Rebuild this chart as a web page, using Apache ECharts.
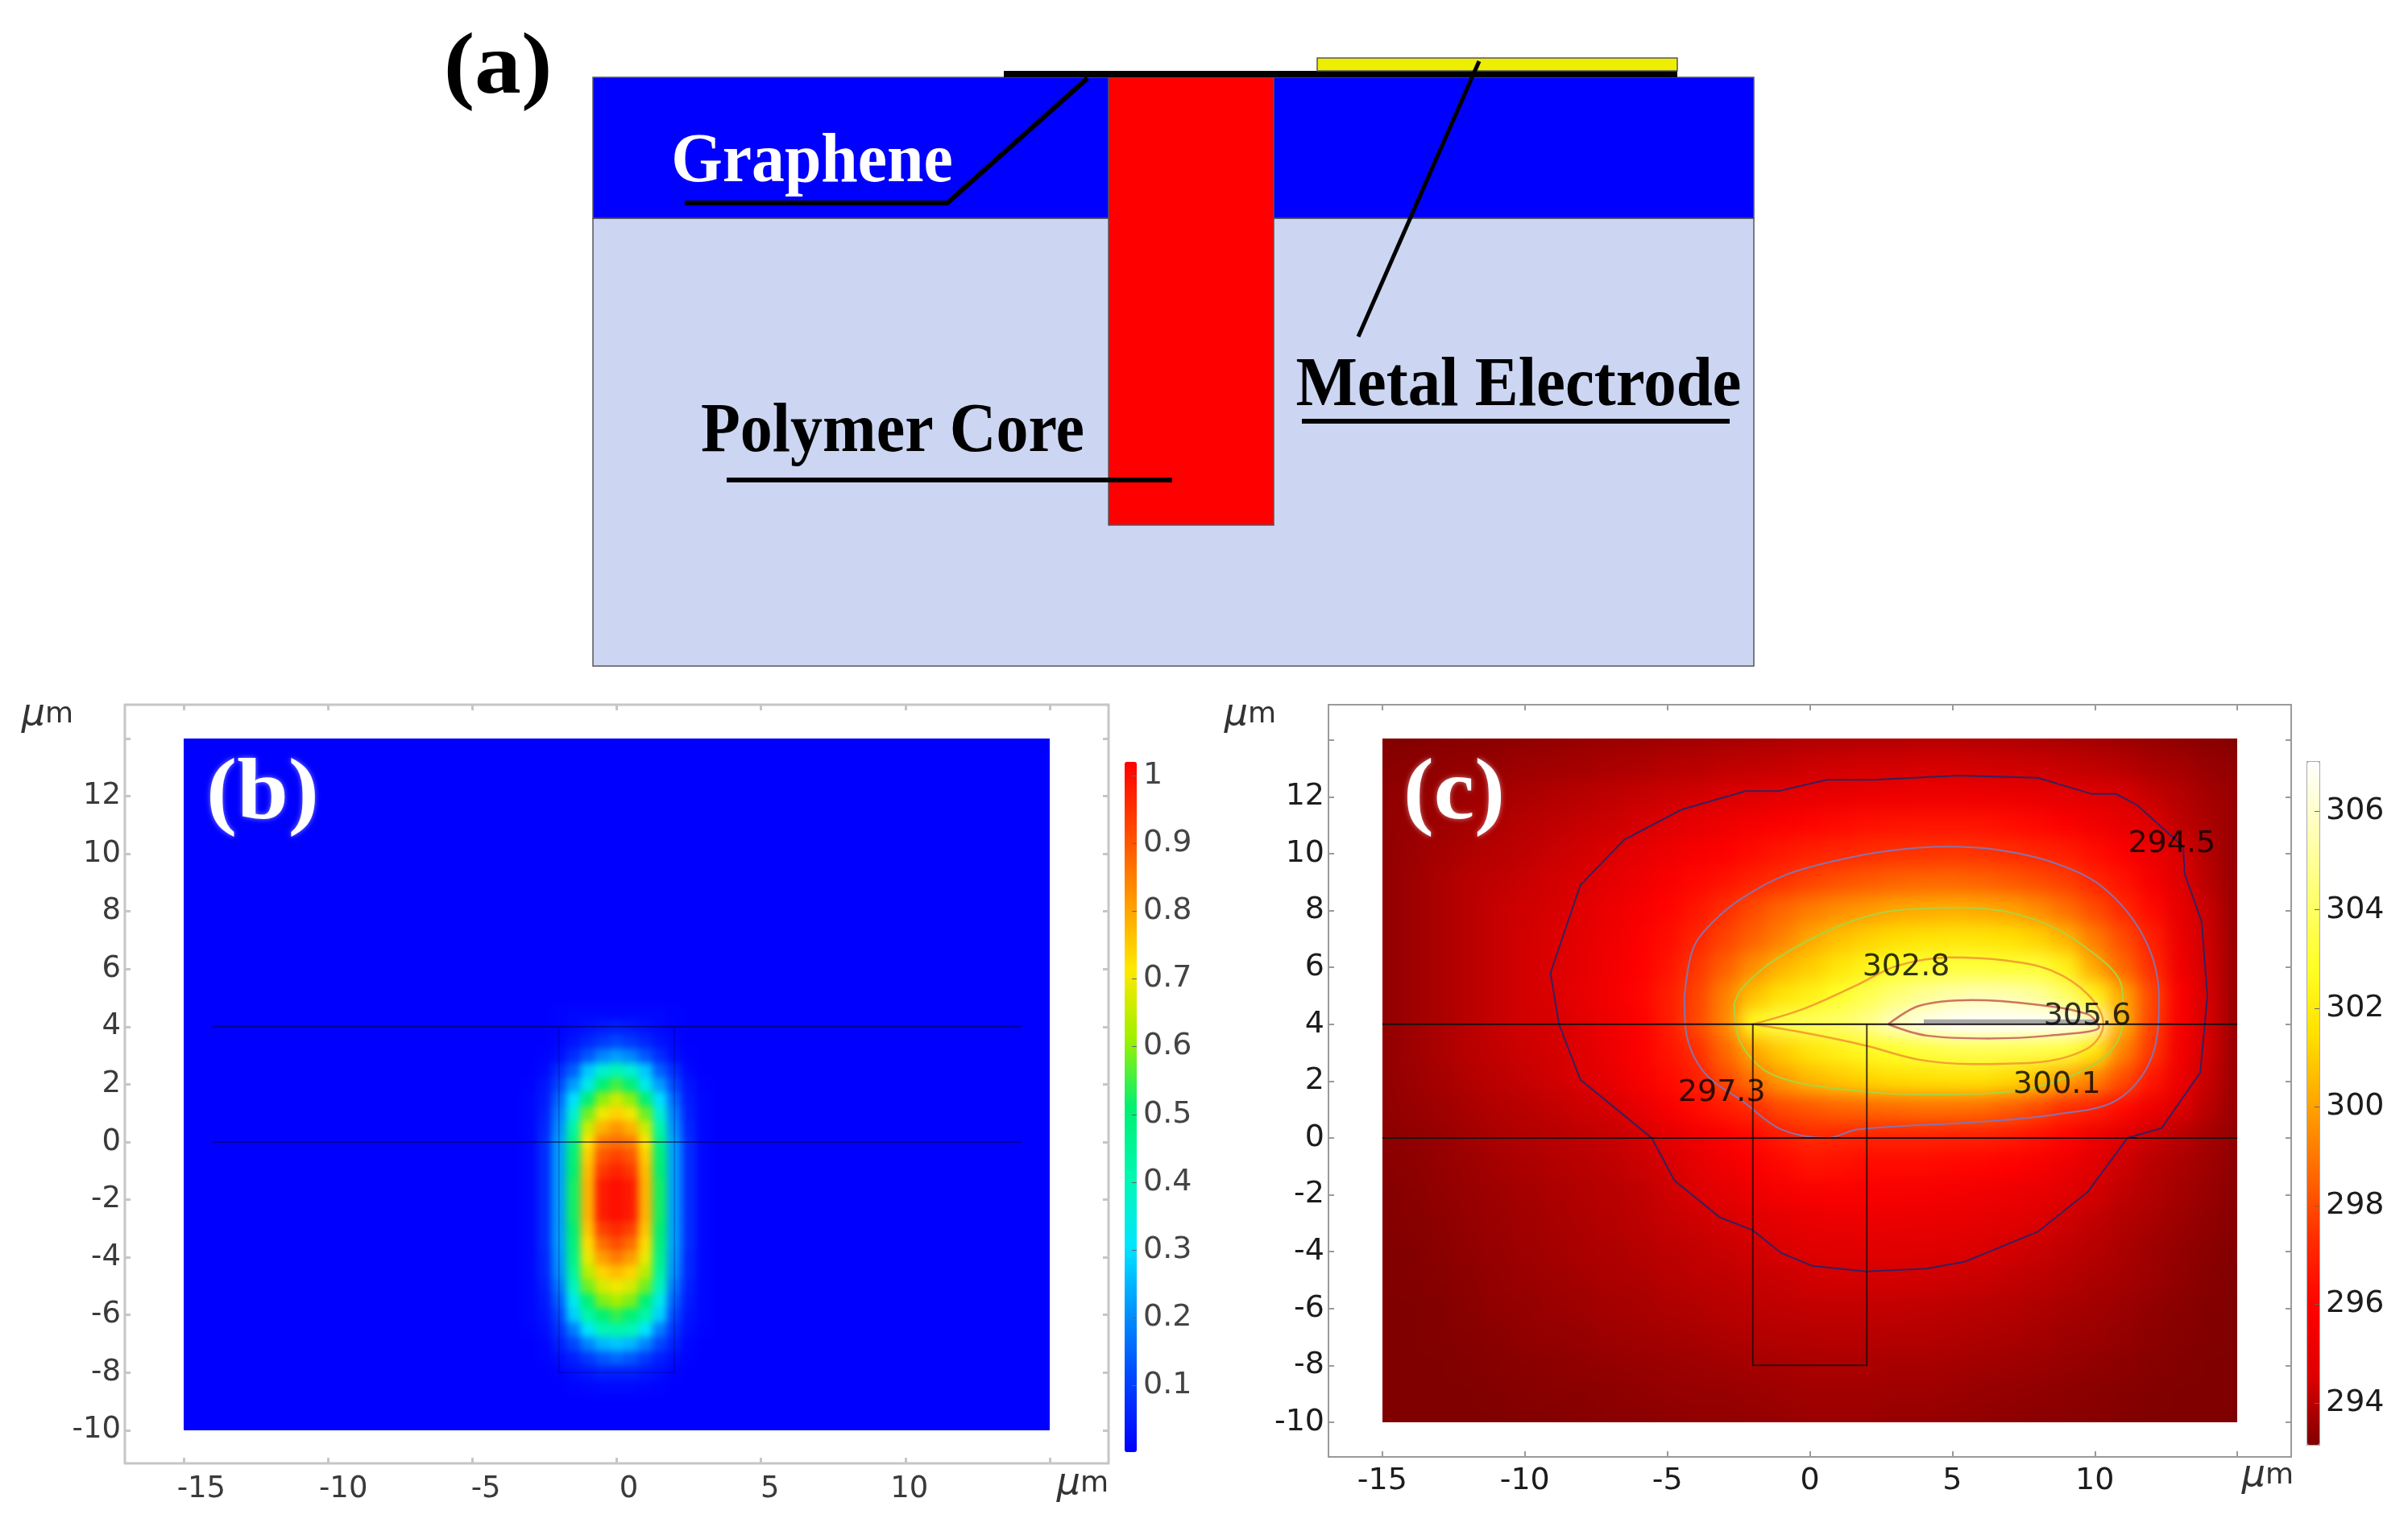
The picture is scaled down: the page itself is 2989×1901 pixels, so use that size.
<!DOCTYPE html>
<html><head><meta charset="utf-8">
<style>html,body{margin:0;padding:0;background:#fff}#c{width:2989px;height:1901px}</style>
<script src="https://cdn.jsdelivr.net/npm/echarts@6/dist/echarts.min.js"></script>
</head><body><div id="c"></div>
<script>
// ---------- panel (a): schematic layers [x0, y0, x1, y1] in schematic units
const layerNames = ['Substrate','Cladding','Polymer Core','Graphene','Graphene under electrode','Metal Electrode'];
const layerRects = [[0,-556,1441,0],[0,0,1441,175],[640,-381,845,175],[510,175,899,183],[899,175,1346,183],[899,183,1346,199]];
const layerFill = ['#ccd6f2','#0000ff','#ff0000','#000000','#000000','#eeee00'];
const grapheneLeader = [[114,19],[440,19],[614,174]];
const electrodeLeader = [[1100,195],[950,-147]];
const electrodeUnderline = [[880,-252],[1411,-252]];
const coreUnderline = [[166,-325],[719,-325]];

// ---------- panel (b): optical mode, read on a 0.5 um mesh, x = -3 ... 0 (mirrored about x = 0)
const modeXs = [-3,-2.5,-2,-1.5,-1,-0.5,0,0.5,1,1.5,2,2.5,3];
const modeYs = [4.5,4,3.5,3,2.5,2,1.5,1,0.5,0,-0.5,-1,-1.5,-2,-2.5,-3,-3.5,-4,-4.5,-5,-5.5,-6,-6.5,-7,-7.5,-8,-8.5,-9];
const modeHalf = [
[0,0,.005,.01,.01,.01,.01],
[0,0,.005,.015,.025,.04,.05],
[0,0,.01,.03,.06,.09,.11],
[0,.005,.02,.07,.13,.19,.22],
[0,.015,.07,.14,.27,.36,.4],
[.005,.03,.11,.22,.33,.5,.55],
[.01,.04,.15,.3,.5,.6,.66],
[.01,.05,.18,.36,.58,.7,.74],
[.01,.06,.2,.42,.66,.78,.82],
[.01,.07,.22,.47,.72,.85,.87],
[.01,.07,.22,.5,.75,.9,.93],
[.01,.07,.22,.51,.77,.94,.97],
[.01,.07,.22,.52,.78,.98,1],
[.01,.07,.22,.52,.78,.98,1],
[.01,.07,.22,.52,.78,.98,1],
[.01,.07,.22,.51,.76,.93,.96],
[.01,.07,.22,.49,.73,.87,.91],
[.01,.06,.21,.47,.69,.81,.85],
[.01,.06,.2,.44,.64,.74,.77],
[.01,.05,.17,.39,.58,.67,.7],
[.01,.04,.14,.33,.5,.59,.62],
[.01,.03,.11,.28,.42,.5,.54],
[.005,.02,.08,.18,.31,.4,.42],
[0,.01,.05,.11,.19,.25,.27],
[0,.005,.02,.05,.09,.13,.15],
[0,0,.005,.02,.035,.05,.05],
[0,0,0,.005,.01,.015,.015],
[0,0,0,0,0,0,0]];

// ---------- panel (c): temperature (K) on a 1 um mesh, rows y = 14 ... -10, columns x = -15 ... 15
const tempXs = [-15,-14,-13,-12,-11,-10,-9,-8,-7,-6,-5,-4,-3,-2,-1,0,1,2,3,4,5,6,7,8,9,10,11,12,13,14,15];
const tempYs = [14,13,12,11,10,9,8,7,6,5,4,3,2,1,0,-1,-2,-3,-4,-5,-6,-7,-8,-9,-10];
const tempRows = [
[293.2,293.2,293.25,293.3,293.35,293.4,293.45,293.5,293.55,293.6,293.65,293.7,293.75,293.8,293.85,293.9,293.9,293.95,293.95,294,294,293.95,293.9,293.85,293.8,293.7,293.6,293.5,293.4,293.3,293.25],
[293.3,293.35,293.4,293.45,293.5,293.6,293.65,293.7,293.8,293.85,293.95,294,294.1,294.15,294.2,294.3,294.35,294.4,294.4,294.45,294.45,294.4,294.35,294.3,294.2,294.1,294,293.8,293.7,293.5,293.4],
[293.4,293.45,293.5,293.6,293.7,293.8,293.9,294,294.1,294.2,294.3,294.4,294.5,294.65,294.85,295,295.1,295.2,295.25,295.3,295.3,295.25,295.15,295.05,294.9,294.7,294.5,294.2,293.95,293.7,293.5],
[293.4,293.5,293.6,293.7,293.85,294,294.1,294.2,294.3,294.45,294.7,295,295.3,295.55,295.8,296,296.2,296.35,296.45,296.5,296.5,296.45,296.3,296.1,295.8,295.4,295,294.6,294.1,293.8,293.5],
[293.4,293.55,293.7,293.85,294,294.1,294.25,294.4,294.55,294.95,295.3,295.6,295.9,296.25,296.6,296.9,297.1,297.3,297.4,297.45,297.5,297.45,297.3,297.1,296.8,296.3,295.8,295.2,294.55,293.9,293.5],
[293.4,293.6,293.8,294,294.1,294.25,294.4,294.5,294.9,295.3,295.7,296.1,296.5,297,297.4,297.8,298.1,298.3,298.5,298.6,298.6,298.5,298.3,298,297.7,297.1,296.5,295.6,294.7,294,293.5],
[293.4,293.6,293.8,294,294.2,294.35,294.45,294.75,295.2,295.6,296,296.6,297.3,298,298.6,299.1,299.5,299.8,300.1,300.2,300.3,300.2,300,299.5,298.8,298,297.2,296.2,295,294.2,293.5],
[293.4,293.6,293.8,294,294.2,294.4,294.55,294.9,295.3,295.8,296.3,297,297.8,298.5,299.2,300.1,300.7,301.1,301.4,301.6,301.7,301.7,301.5,301.1,300.4,299.1,298,296.9,295.2,294.3,293.5],
[293.4,293.6,293.8,294,294.2,294.4,294.55,294.95,295.4,295.9,296.5,297.5,298.4,299.5,300.4,301,301.7,302.3,302.85,303.1,303.2,303.2,303.1,303.1,302.2,300.1,298.6,297.3,295.4,294.35,293.5],
[293.4,293.6,293.8,294,294.2,294.4,294.55,295,295.5,296,296.8,297.8,299.2,300.7,301.6,302.2,302.9,303.6,304.3,304.9,305.3,305.5,305.4,305,304,302.3,300.1,297.9,295.8,294.4,293.5],
[293.4,293.6,293.8,294,294.2,294.4,294.45,294.8,295.3,295.9,296.7,297.9,299.3,302.6,303.5,303.8,304.1,304.7,305.8,306.5,306.9,307,307,307,306.8,306,300.3,297.8,295.7,294.4,293.5],
[293.4,293.6,293.8,294,294.15,294.3,294.42,294.7,295.2,295.8,296.5,297.3,298.6,300.1,301,301.7,302.2,302.6,302.85,303.2,303.5,303.6,303.5,303.4,303.2,301.8,299.2,297.5,295.5,294.35,293.5],
[293.4,293.55,293.7,293.9,294.05,294.2,294.35,294.55,295,295.6,296.2,296.8,297.9,298.9,299.8,300.5,300.9,301.2,301.4,301.5,301.6,301.6,301.3,300.8,300,299.2,298,296.6,295.2,294.2,293.5],
[293.4,293.5,293.6,293.75,293.9,294,294.15,294.3,294.45,295,295.6,296.2,296.7,297.2,297.9,298.2,298.5,298.6,298.7,298.8,298.8,298.7,298.4,297.9,297.3,296.9,296.2,295.3,294.6,294,293.5],
[293.3,293.4,293.5,293.65,293.8,293.9,294,294.1,294.2,294.4,294.8,295.3,295.8,296.2,296.7,297.2,297.1,297,297,297,296.9,296.9,296.7,296.4,296,295.3,294.75,294.3,294,293.7,293.4],
[293.3,293.35,293.45,293.55,293.7,293.8,293.9,294,294.1,294.25,294.45,294.9,295.3,295.7,296.1,296.5,296.4,296.2,296.2,296.2,296.1,296,295.9,295.6,295.2,294.7,294.3,294,293.8,293.6,293.35],
[293.2,293.3,293.4,293.5,293.6,293.7,293.8,293.9,294,294.1,294.3,294.55,294.85,295.2,295.5,295.7,295.75,295.7,295.65,295.6,295.5,295.35,295.2,295,294.75,294.4,294.1,293.9,293.7,293.5,293.3],
[293.2,293.25,293.35,293.45,293.55,293.65,293.75,293.85,293.95,294.05,294.2,294.3,294.45,294.6,294.85,295.05,295.15,295.15,295.1,295.05,295,294.9,294.75,294.55,294.3,294.1,293.9,293.75,293.55,293.4,293.25],
[293.15,293.2,293.3,293.4,293.5,293.6,293.7,293.8,293.85,293.95,294.05,294.15,294.25,294.35,294.5,294.65,294.7,294.75,294.7,294.65,294.6,294.5,294.4,294.25,294.1,293.95,293.8,293.6,293.45,293.3,293.2],
[293.15,293.2,293.25,293.35,293.45,293.55,293.6,293.7,293.8,293.85,293.95,294.05,294.1,294.2,294.25,294.35,294.4,294.4,294.4,294.35,294.3,294.25,294.15,294.05,293.95,293.8,293.7,293.55,293.4,293.25,293.15],
[293.15,293.15,293.2,293.3,293.4,293.45,293.55,293.6,293.7,293.75,293.85,293.9,294,294.05,294.1,294.15,294.15,294.15,294.15,294.1,294.05,294,293.95,293.85,293.75,293.65,293.55,293.4,293.3,293.2,293.15],
[293.15,293.15,293.2,293.25,293.3,293.4,293.45,293.5,293.6,293.65,293.7,293.75,293.85,293.9,293.95,293.95,294,294,293.95,293.95,293.9,293.85,293.8,293.7,293.6,293.55,293.45,293.35,293.25,293.2,293.15],
[293.15,293.15,293.15,293.2,293.25,293.3,293.35,293.4,293.45,293.5,293.55,293.6,293.65,293.7,293.75,293.8,293.8,293.8,293.75,293.75,293.7,293.65,293.6,293.55,293.5,293.4,293.35,293.25,293.2,293.15,293.15],
[293.15,293.15,293.15,293.15,293.2,293.25,293.3,293.3,293.35,293.4,293.45,293.5,293.5,293.55,293.6,293.65,293.65,293.65,293.6,293.6,293.55,293.5,293.45,293.4,293.35,293.3,293.25,293.2,293.15,293.15,293.15],
[293.15,293.15,293.15,293.15,293.15,293.2,293.2,293.25,293.3,293.3,293.35,293.4,293.4,293.45,293.5,293.55,293.55,293.55,293.5,293.5,293.45,293.4,293.35,293.3,293.3,293.25,293.2,293.15,293.15,293.15,293.15]];

// contour polylines in um
const contour2945 = [[-9.1,5.8],[-8.8,4],[-8.05,2.05],[-5.55,0],[-4.75,-1.5],[-3.15,-2.8],[-2,-3.25],[-1,-4.05],[0.08,-4.5],[1.96,-4.7],[4.1,-4.6],[5.45,-4.35],[8,-3.3],[9.75,-1.9],[11.15,0],[12.35,0.35],[13.7,2.3],[13.95,5],[13.75,7.6],[13.15,9.3],[13.1,10.25],[11.5,11.7],[10.75,12.1],[9.9,12.1],[8,12.67],[5.2,12.75],[2.25,12.6],[0.6,12.6],[-1.1,12.2],[-2.25,12.2],[-4.5,11.55],[-6.5,10.5],[-8.05,8.9],[-9.1,5.8]];
const contour2973 = [[-4.4,4.95],[-4.35,3.8],[-3.7,2.3],[-2.3,1.25],[-1,0.3],[0.6,0],[1.7,0.3],[5.7,0.55],[8.65,0.83],[10.8,1.35],[12,2.85],[12.25,4.95],[11.75,7],[10.3,8.8],[8.5,9.7],[6.5,10.15],[4.8,10.25],[2.75,10.1],[0.9,9.75],[-0.85,9.25],[-2.35,8.45],[-3.4,7.6],[-4.1,6.65],[-4.4,4.95]];
const contour3001 = [[-2.65,4.75],[-2.45,3.4],[-1.25,2.2],[1.95,1.63],[4.4,1.53],[7.05,1.63],[9.2,2.2],[10.55,3.05],[11,4.2],[10.95,5.3],[9.75,6.65],[7.85,7.7],[5.45,8.1],[3,8],[0.9,7.4],[-1.25,6.25],[-2.35,5.3],[-2.65,4.75]];
const contour3028 = [[-2,4],[-0.2,4.55],[1.7,5.4],[3.05,6.05],[4.9,6.35],[6.8,6.25],[8.45,5.9],[9.75,5.05],[10.3,4],[9.75,3.15],[7.85,2.65],[5.7,2.6],[3.85,2.75],[1.95,3.25],[-0.2,3.7],[-2,4]];
const contour3056 = [[2.75,4],[3.85,4.65],[5.7,4.85],[7.85,4.7],[9.75,4.35],[10.15,3.9],[8.4,3.6],[6.25,3.5],[4.1,3.6],[2.75,4]];
const contourColors = ['#35205f','#8a72ad','#aed23e','#f2a32e','#cc7464'];
const contourNames = ['294.5','297.3','300.1','302.8','305.6'];
const contourLabelPos = [[12.7,10.34],[-3.09,1.59],[8.67,1.875],[3.38,6],[9.74,4.28]];
const electrodeBar = [[4,4.1],[10.1,4.1]];

// waveguide outlines in um
const interfaceTop = [[-15,4],[15,4]];
const interfaceBottom = [[-15,0],[15,0]];
const coreOutline = [[-2,4],[-2,-8],[2,-8],[2,4]];
const modeTop = [[-14,4],[14,4]];
const modeBottom = [[-14,0],[14,0]];

// ticks and colour scales
const xTicks = [-15,-10,-5,0,5,10,15];
const xLabels = [-15,-10,-5,0,5,10];
const xLabelsB = [-14.39,-9.47,-4.53,0.42,5.31,10.14];
const yTicks = [-10,-8,-6,-4,-2,0,2,4,6,8,10,12,14];
const yLabels = [-10,-8,-6,-4,-2,0,2,4,6,8,10,12];
const modeBarTicks = [0.1,0.2,0.3,0.4,0.5,0.6,0.7,0.8,0.9,1];
const tempBarTicks = [294,296,298,300,302,304,306];
const modeColors = ['#0000ff','#0040ff','#0090ff','#00e6ff','#00f8b0','#00f070','#a0f000','#ffe800','#ff9800','#ff4800','#ff0000'];
const tempColors = ['#800000','#dc0000','#ff0000','#ff2c00','#ff6a00','#ffa500','#ffe000','#ffff28','#ffff70','#ffffb8','#ffffff'];

// ---------- layout
const FONT='"DejaVu Sans"', SERIF='"Liberation Serif"';
const B={l:155,t:875,w:1221,h:942,xr:17.04,yt:15.17,yb:-11.15,plot:[228,917,1303,1776],ux:35.83,uy:35.8};
const C={l:1649,t:875,w:1195,h:934,xr:16.89,yt:15.24,yb:-11.22,plot:[1716,917,2777,1766],ux:35.37,uy:35.3};

// mesh categories
const bCatsX=[],bCatsY=[]; for(let i=0;i<=60;i++)bCatsX.push(String(-15+i*0.5)); for(let i=0;i<=48;i++)bCatsY.push(String(-10+i*0.5));
const bRows={}; modeYs.forEach((y,r)=>{bRows[y]=modeHalf[r].concat(modeHalf[r].slice(0,6).reverse());});
const bData=[];
bCatsX.forEach((cx,i)=>bCatsY.forEach((cy,j)=>{
  const row=bRows[+cy], k=modeXs.indexOf(+cx);
  bData.push([i,j,(row&&k>=0)?row[k]:0]);
}));
const cData=[];
tempYs.forEach((y,r)=>tempXs.forEach((x,k)=>cData.push([k,y+10,tempRows[r][k]])));

function frameAxes(P,bottomLabels,fmt,color,lw,tickLen,margin,labelColor,fs){
  const tick={show:true,inside:true,length:tickLen,lineStyle:{color,width:lw}};
  const noLine={show:false,onZero:false};
  const xa=(gi,pos,show)=>({type:'value',gridIndex:gi,position:pos,min:-P.xr,max:P.xr,
    axisLine:noLine,splitLine:{show:false},
    axisTick:Object.assign({},tick,{customValues:xTicks}),
    axisLabel:{show,customValues:bottomLabels,formatter:fmt,margin,color:labelColor,fontFamily:FONT,fontSize:fs}});
  const ya=(gi,pos,show)=>({type:'value',gridIndex:gi,position:pos,min:P.yb,max:P.yt,
    axisLine:noLine,splitLine:{show:false},
    axisTick:Object.assign({},tick,{customValues:yTicks}),
    axisLabel:{show,customValues:yLabels,margin:5,color:labelColor,fontFamily:FONT,fontSize:fs}});
  return {xa,ya};
}
const fb=frameAxes(B,xLabelsB,v=>String(Math.round(v/5)*5),'#c6c6c6',3,7,14,'#3a3a3a',37);
const fc=frameAxes(C,xLabels,v=>String(v),'#9a9a9a',2,7,11,'#1c1c1c',38);
const hiddenCat=(gi,cats)=>({type:'category',gridIndex:gi,data:cats,show:false});
const tempCatX=tempXs.map(String), tempCatY=tempYs.slice().reverse().map(String);

const xAxis=[
 {type:'value',gridIndex:0,min:0,max:1441,show:false},
 fb.xa(1,'bottom',true),fb.xa(1,'top',false),
 fc.xa(2,'bottom',true),fc.xa(2,'top',false),
 hiddenCat(3,bCatsX),hiddenCat(4,tempCatX),
 {type:'value',gridIndex:5,show:false,min:0,max:1},
 {type:'value',gridIndex:6,show:false,min:0,max:1}
];
const yAxis=[
 {type:'value',gridIndex:0,min:-556,max:211,show:false},
 fb.ya(1,'left',true),fb.ya(1,'right',false),
 fc.ya(2,'left',true),fc.ya(2,'right',false),
 hiddenCat(3,bCatsY),hiddenCat(4,tempCatY),
 {type:'value',gridIndex:5,position:'right',min:0.002,max:1.02,z:5,axisLine:{show:false,onZero:false},splitLine:{show:false},
  axisTick:{show:true,inside:true,length:6,customValues:modeBarTicks,lineStyle:{color:'#666',width:1}},
  axisLabel:{customValues:modeBarTicks,margin:8,color:'#444',fontFamily:FONT,fontSize:38,formatter:v=>String(v)}},
 {type:'value',gridIndex:6,position:'right',min:293.15,max:307,z:5,axisLine:{show:false,onZero:false},splitLine:{show:false},
  axisTick:{show:true,inside:true,length:6,customValues:tempBarTicks,lineStyle:{color:'#666',width:1}},
  axisLabel:{customValues:tempBarTicks,margin:8,color:'#1c1c1c',fontFamily:FONT,fontSize:38}}
];
const grid=[
 {left:736,top:60,width:1441,height:767},
 {left:B.l,top:B.t,width:B.w,height:B.h,show:true,borderColor:'#c6c6c6',borderWidth:3,backgroundColor:'transparent'},
 {left:C.l,top:C.t,width:C.w,height:C.h,show:true,borderColor:'#9a9a9a',borderWidth:2,backgroundColor:'transparent'},
 {left:228-B.ux*0.25,top:917-B.uy*0.25,width:1075+B.ux*0.5,height:859+B.uy*0.5},
 {left:1716-C.ux*0.5,top:917-C.uy*0.5,width:1061+C.ux,height:849+C.uy},
 {left:1396,top:946,width:15,height:857},
 {left:2864,top:946,width:15,height:848,show:true,borderColor:'#aaaaaa',borderWidth:2,backgroundColor:'transparent'}
];

const line=(name,data,xi,color,width,extra)=>Object.assign({type:'line',name,data,xAxisIndex:xi,yAxisIndex:xi,
  showSymbol:false,symbol:'none',silent:true,animation:false,lineStyle:{color,width,cap:'butt',join:'miter'},z:6},extra||{});
const plate=(xi,color,zlevel,P)=>({type:'custom',xAxisIndex:xi,yAxisIndex:xi,zlevel,z:0,silent:true,animation:false,clip:false,
  data:[[-P.xr,P.yb,P.xr,P.yt]],
  renderItem:(p,api)=>{const a=api.coord([api.value(0),api.value(3)]),b=api.coord([api.value(2),api.value(1)]);
    return {type:'rect',shape:{x:a[0],y:a[1],width:b[0]-a[0],height:b[1]-a[1]},style:{fill:color}};}});
const smooth={smooth:0.35};

const series=[
 {type:'custom',name:'Layers',xAxisIndex:0,yAxisIndex:0,silent:true,animation:false,z:2,clip:false,
  data:layerRects.map((r,i)=>({name:layerNames[i],value:r})),
  renderItem:(p,api)=>{const a=api.coord([api.value(0),api.value(3)]),b=api.coord([api.value(2),api.value(1)]);
    const black=layerFill[p.dataIndex]==='#000000';
    return {type:'rect',shape:{x:a[0],y:a[1],width:b[0]-a[0],height:b[1]-a[1]},
      style:{fill:layerFill[p.dataIndex],stroke:black?null:'#55565e',lineWidth:black?0:1.5}};}},
 line('Graphene leader',grapheneLeader,0,'#000',6),
 line('Electrode leader',electrodeLeader,0,'#000',5),
 line('Electrode underline',electrodeUnderline,0,'#000',6),
 line('Core underline',coreUnderline,0,'#000',6),
 plate(1,'#0000ff',-2,B),
 plate(3,'#8a0000',-1,C),
 {type:'heatmap',name:'Mode',xAxisIndex:5,yAxisIndex:5,data:bData,zlevel:-2,z:2,silent:true,animation:false,progressive:0,itemStyle:{borderWidth:0}},
 {type:'heatmap',name:'Temperature',xAxisIndex:6,yAxisIndex:6,data:cData,zlevel:-1,z:2,silent:true,animation:false,progressive:0,itemStyle:{borderWidth:0}},
 line('Interface 4',modeTop,1,'rgba(0,0,70,0.55)',2),
 line('Interface 0',modeBottom,1,'rgba(0,0,70,0.55)',2),
 line('Core',coreOutline,1,'rgba(0,0,70,0.22)',2),
 line('Electrode',electrodeBar,3,'#a8a8a8',5),
 line('294.5',contour2945,3,contourColors[0],2),
 line('297.3',contour2973,3,contourColors[1],2,smooth),
 line('300.1',contour3001,3,contourColors[2],2,smooth),
 line('302.8',contour3028,3,contourColors[3],2.5,smooth),
 line('305.6',contour3056,3,contourColors[4],2.5,smooth),
 line('Interface c4',interfaceTop,3,'#1a1010',2),
 line('Interface c0',interfaceBottom,3,'#1a1010',2),
 line('Core c',coreOutline,3,'rgba(30,10,10,0.8)',2),
 {type:'scatter',name:'Contour labels',xAxisIndex:3,yAxisIndex:3,symbolSize:0,silent:true,animation:false,z:8,
  data:contourLabelPos.map((p,i)=>({name:contourNames[i],value:p})),
  label:{show:true,position:'inside',formatter:'{b}',color:'#000',fontFamily:FONT,fontSize:38}}
];

const visualMap=[
 {type:'continuous',seriesIndex:7,min:0,max:1.02,inRange:{color:modeColors},left:1396,top:946,itemWidth:15,itemHeight:857,padding:0,text:['',''],calculable:false,showLabel:false,z:3},
 {type:'continuous',seriesIndex:8,min:293.15,max:307,inRange:{color:tempColors},left:2864,top:946,itemWidth:15,itemHeight:848,padding:0,text:['',''],calculable:false,showLabel:false,z:3}
];

const txt=(text,x,y,size,fill,sx,extra)=>({type:'text',x,y,scaleX:sx,z:20,silent:true,style:Object.assign({text,fill,font:'bold '+size+'px '+SERIF,align:'center',verticalAlign:'middle'},extra||{})});
const micron=(x,y)=>({type:'text',x,y,z:20,silent:true,style:{text:'{i|μ}{r|m}',align:'center',verticalAlign:'middle',fill:'#333',
  rich:{i:{font:'italic 46px '+FONT,fill:'#333'},r:{font:'36px '+FONT,fill:'#333'}}}});
const glow={textShadowColor:'rgba(255,255,255,0.5)',textShadowBlur:6};
const graphic={elements:[
 txt('(a)',618,87,108,'#000',1.07),
 txt('Graphene',1008,203,86,'#fff',0.95),
 txt('Polymer Core',1108,538,86,'#000',0.93),
 txt('Metal Electrode',1885,481,86,'#000',0.94),
 txt('(b)',326,988,108,'#fff',1.06,glow),
 txt('(c)',1805,988,108,'#fff',1.05,glow),
 micron(59,888),micron(1552,888),micron(1344,1843),micron(2815,1833)
]};

const chart=echarts.init(document.getElementById('c'),null,{renderer:'canvas',width:2989,height:1901});
chart.setOption({animation:false,backgroundColor:'transparent',grid,xAxis,yAxis,series,visualMap,graphic});

// soften the two mesh layers the way the bitmap reference is soft, clipped to each plot rectangle
const zr=chart.getZr();
function soften(z,blur,p){
  const layer=zr.painter.getLayer(z); if(!layer||!layer.dom) return;
  layer.dom.style.filter='blur('+blur+'px)';
  layer.dom.style.clipPath='polygon('+p[0]+'px '+p[1]+'px,'+p[2]+'px '+p[1]+'px,'+p[2]+'px '+p[3]+'px,'+p[0]+'px '+p[3]+'px)';
}
soften(-2,5,B.plot);
soften(-1,11,C.plot);
</script></body></html>
